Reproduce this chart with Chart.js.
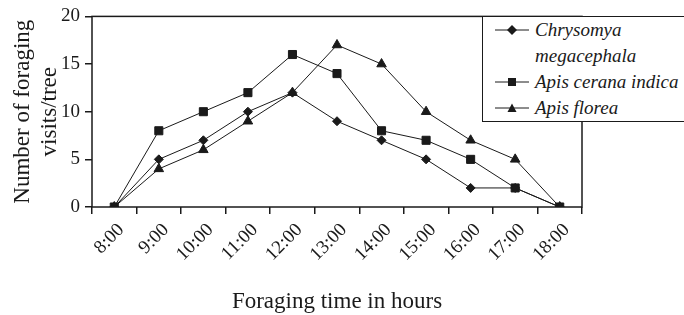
<!DOCTYPE html>
<html>
<head>
<meta charset="utf-8">
<script src="https://cdn.jsdelivr.net/npm/chart.js@4.4.0/dist/chart.umd.min.js"></script>
<style>
  html, body { margin: 0; padding: 0; background: #fff; overflow: hidden; }
  #wrap { position: relative; width: 684px; height: 315px; overflow: hidden; }
  #legend {
    position: absolute; left: 482px; top: 16px; width: 260px; height: 104px;
    border: 1px solid #1a1a1a; background: #fff;
    font-family: "Liberation Serif", "Times New Roman", serif; font-style: italic; font-size: 19px;
    color: #1a1a1a; line-height: 26px;
  }
  .row { position: relative; padding-left: 52px; white-space: nowrap; }
  .row svg { position: absolute; left: 12px; top: 7px; }
</style>
</head>
<body>
<div id="wrap">
  <canvas id="myChart" width="684" height="315"></canvas>
  <div id="legend"></div>
</div>
<script>
// data
var hours = ['8:00', '9:00', '10:00', '11:00', '12:00', '13:00', '14:00', '15:00', '16:00', '17:00', '18:00'];
var chrysomya = [0, 5, 7, 10, 12, 9, 7, 5, 2, 2, 0];
var ceranaIndica = [0, 8, 10, 12, 16, 14, 8, 7, 5, 2, 0];
var florea = [0, 4, 6, 9, 12, 17, 15, 10, 7, 5, 0];
var seriesNames = [['Chrysomya', 'megacephala'], ['Apis cerana indica'], ['Apis florea']];
var yTicks = [0, 5, 10, 15, 20];

var ink = '#1a1a1a';
var serif = 'Liberation Serif';

//Legend
var markerSvg = [
  '<polygon points="17,1 22,6 17,11 12,6" fill="' + ink + '"/>',
  '<rect x="13" y="2" width="8" height="8" fill="' + ink + '"/>',
  '<polygon points="17,1.5 21.5,10 12.5,10" fill="' + ink + '"/>'
];
var legendHtml = '';
seriesNames.forEach(function (name, i) {
  legendHtml += '<div class="row"><svg width="34" height="12">' +
    '<line x1="0" y1="6" x2="34" y2="6" stroke="' + ink + '" stroke-width="1"/>' +
    markerSvg[i] + '</svg>' + name.join('<br>') + '</div>';
});
document.getElementById('legend').innerHTML = legendHtml;

//Rahmen um den Plotbereich
var frame = {
  id: 'frame',
  afterDraw: function (chart) {
    var a = chart.chartArea;
    var ctx = chart.ctx;
    ctx.save();
    ctx.strokeStyle = ink;
    ctx.lineWidth = 1.5;
    ctx.strokeRect(a.left, a.top, a.right - a.left, a.bottom - a.top);
    ctx.restore();
  }
};

function lineSet(label, data, style, radius) {
  return {
    label: label,
    data: data,
    borderColor: ink,
    borderWidth: 1,
    backgroundColor: ink,
    pointStyle: style,
    pointRadius: radius,
    pointBackgroundColor: ink,
    pointBorderColor: ink,
    pointBorderWidth: 1,
    tension: 0,
    fill: false
  };
}

var ctx = document.getElementById('myChart').getContext('2d');
var myChart = new Chart(ctx, {
  type: 'line',
  data: {
    labels: hours,
    datasets: [
      lineSet(seriesNames[0].join(' '), chrysomya, 'rectRot', 4.5),
      lineSet(seriesNames[1].join(' '), ceranaIndica, 'rect', 5.7),
      lineSet(seriesNames[2].join(' '), florea, 'triangle', 5.5)
    ]
  },
  options: {
    responsive: false,
    animation: false,
    devicePixelRatio: 1,
    layout: { padding: { top: 16, right: 102, left: 0, bottom: 0 } },
    plugins: {
      legend: { display: false },
      tooltip: { enabled: false }
    },
    scales: {
      x: {
        offset: true,
        grid: { offset: true, drawOnChartArea: false, tickLength: 7, color: ink, lineWidth: 1.5 },
        border: { display: false },
        ticks: {
          minRotation: 45, maxRotation: 45, padding: 5, labelOffset: 7, color: ink,
          font: { family: serif, size: 19 }
        },
        title: {
          display: true,
          text: 'Foraging time in hours',
          color: ink,
          font: { family: serif, size: 23, lineHeight: 1.1 },
          padding: { top: 0, bottom: 0 }
        },
        afterFit: function (scale) { scale.height = 108; }
      },
      y: {
        min: 0,
        max: 20,
        afterBuildTicks: function (scale) {
          scale.ticks = yTicks.map(function (v) { return { value: v }; });
        },
        grid: { drawOnChartArea: false, tickLength: 7, color: ink, lineWidth: 1.5 },
        border: { display: false },
        ticks: { padding: 5, color: ink, font: { family: serif, size: 19 } },
        title: {
          display: true,
          text: ['Number of foraging', 'visits/tree'],
          color: ink,
          font: { family: serif, size: 23, lineHeight: '27px' },
          padding: { top: 9, bottom: 0 }
        },
        afterFit: function (scale) { scale.width = 92; }
      }
    }
  },
  plugins: [frame]
});
</script>
</body>
</html>
